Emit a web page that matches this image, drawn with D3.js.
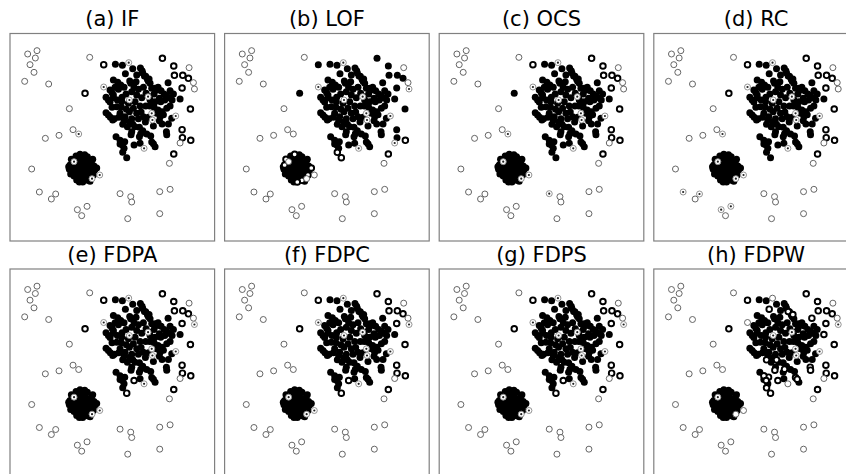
<!DOCTYPE html>
<html><head><meta charset="utf-8">
<script src="https://cdn.jsdelivr.net/npm/d3@7"></script>
<style>body{margin:0;background:#fff}svg{display:block}</style>
</head><body>
<svg id="c" width="846" height="474"></svg>
<script>
// panel titles
const titles = ["(a) IF","(b) LOF","(c) OCS","(d) RC","(e) FDPA","(f) FDPC","(g) FDPS","(h) FDPW"];

// true inliers: large sparse cluster [x, y] (y measured downward)
const bigCluster = [
[311,194],[487,175],[521,198],[523,226],[548,226],[565,235],[546,264],[255,280],[571,327],[546,389],
[547,413],[572,421],[521,462],[368,457],[380,473],[402,435],[540,297],[376,221],[433,228],[447,237],
[368,373],[398,373],[422,401],[393,404],[499,395],[500,404],[374,425],[360,421],[367,435],[455,426],
[460,431],[504,248],[346,193],[367,196],[398,206],[421,204],[426,212],[437,229],[442,238],[353,247],
[345,262],[355,268],[336,278],[362,255],[372,262],[389,243],[408,245],[430,262],[450,250],[465,265],
[474,262],[483,272],[462,282],[492,282],[510,272],[506,293],[494,300],[478,295],[318,292],[325,300],
[340,293],[352,300],[366,292],[378,282],[395,275],[410,285],[425,293],[438,280],[450,300],[465,305],
[318,338],[331,352],[343,356],[356,352],[336,322],[350,320],[364,322],[379,328],[388,335],[400,325],
[410,340],[423,336],[437,318],[449,318],[462,322],[474,330],[486,335],[500,325],[510,318],[480,350],
[478,362],[445,352],[415,356],[395,356],[375,350],[360,340],[382,380],[418,382],[436,366],[460,378],
[486,372],[440,402],[418,410],[348,410],[420,430],[465,440],[395,395],[430,350],[340,240],[385,310],
[405,305],[420,318],[365,305],[455,265],[515,355],[330,270],[505,372],[428,219],[445,244],[358,262],
[340,285],[330,306],[325,345],[338,360],[470,270],[500,288],[516,300],[392,250],[402,262],[415,268],
[448,290],[458,312],[470,340],[490,344],[372,360],[388,366],[405,380],[428,392],[452,408],[360,432],
[372,445],[482,305],[520,282],[410,225]
];

// true inliers: small dense cluster
const smallCluster = [
[246,503],[236,495],[256,495],[240,512],[252,514],[230,505],[262,505],[246,488],[246,520],[228,490],
[264,490],[228,518],[266,520],[238,480],[254,480],[220,500],[272,500],[236,528],[256,530],[218,485],
[274,486],[216,515],[276,514],[246,470],[246,535],[228,468],[262,470],[210,495],[282,498],[230,540],
[262,541],[208,508],[284,510],[222,528],[270,532],[240,463],[254,464],[214,478],[278,478],[248,546],
[238,546],[290,504],[206,500],[270,544],[280,525],[212,522]
];

// true outliers
const outliers = [
[83,162],[111,152],[106,174],[90,194],[102,217],[74,244],[146,252],[269,172],[208,326],[219,389],
[236,402],[136,415],[177,406],[95,507],[118,576],[154,597],[167,582],[232,629],[245,647],[261,619],
[360,581],[392,590],[395,606],[383,656],[479,575],[510,568],[479,641],[508,490],[540,429],[567,203],
[580,248],[583,267],[386,188],[311,261],[388,300],[444,290],[455,340],[527,348],[457,360],[432,445],
[299,525],[276,536],[222,485]
];

// per panel: inliers flagged as outliers (big / small cluster indices)
const fpBig = [
[0,1,2,3,4,5,6,7,8,9,10,11,12],
[11,12,13,14],
[0,1,2,3,4,5,6,8,9,10,11,12],
[0,1,2,3,4,5,6,7,8,9,10,11,12],
[0,1,2,3,4,5,6,7,8,9,10,11,12,14,15],
[0,1,2,3,4,5,6,7,8,9,10,11,12,14,15],
[0,1,2,3,4,5,6,7,8,9,10,11,12,14,15],
[0,1,2,3,4,5,6,7,8,9,10,11,12,13,14,15,16,17,18,19,20,21,22,23,24,25,26,27,28,29,30,31]
];
const fpSmall = [[],[19,37,27,39,30,41,44,35],[],[],[],[],[],[]];
// per panel: outliers missed (predicted inlier)
const fnOut = [
[10,32,33,34,35,36,37,38,39,40,41,42],
[28,31,32,33,34,35,36,37,38,39],
[10,20,32,33,34,35,36,37,38,39,40,41,42],
[10,14,16,17,19,32,33,34,35,36,37,38,39,40,41,42],
[31,32,33,34,35,36,37,38,39,40,41,42],
[31,32,33,34,35,36,37,38,39,40,41,42],
[31,32,33,34,35,36,37,38,39,40,41,42],
[31,34,35,36,37,38,42]
];

const svg = d3.select("#c");
const colX = [10, 224.6, 439.2, 653.8], rowY = [33.5, 269];
const pw = 204.6, ph = 207.5;

titles.forEach((t, i) => {
  const c = i % 4, r = Math.floor(i / 4);
  const g = svg.append("g").attr("transform", `translate(${colX[c]},${rowY[r]})`);
  const x = d3.scaleLinear().domain([30, 643.5]).range([0, pw]);
  const y = d3.scaleLinear().domain([100.5, 723]).range([0, ph]);
  const cid = "clip" + i;
  g.append("clipPath").attr("id", cid).append("rect").attr("width", pw).attr("height", ph);
  const pg = g.append("g").attr("clip-path", `url(#${cid})`);

  const fpB = new Set(fpBig[i]), fpS = new Set(fpSmall[i]), fnO = new Set(fnOut[i]);
  const inl = bigCluster.map((d, k) => ({d, fp: fpB.has(k)}))
    .concat(smallCluster.map((d, k) => ({d, fp: fpS.has(k)})));

  pg.selectAll("circle.tn").data(inl.filter(p => !p.fp)).join("circle")
    .attr("class","tn").attr("cx", p => x(p.d[0])).attr("cy", p => y(p.d[1]))
    .attr("r", 3.5).attr("fill", "#000");
  pg.selectAll("circle.fp").data(inl.filter(p => p.fp)).join("circle")
    .attr("class","fp").attr("cx", p => x(p.d[0])).attr("cy", p => y(p.d[1]))
    .attr("r", 2.8).attr("fill", "#fff").attr("stroke", "#000").attr("stroke-width", 1.9);
  const outs = outliers.map((d, k) => ({d, fn: fnO.has(k)}));
  pg.selectAll("circle.o").data(outs).join("circle")
    .attr("class","o").attr("cx", p => x(p.d[0])).attr("cy", p => y(p.d[1]))
    .attr("r", 3).attr("fill", "#fff").attr("stroke", p => p.fn ? "#888" : "#555").attr("stroke-width", 0.9);
  pg.selectAll("circle.dot").data(outs.filter(p => p.fn)).join("circle")
    .attr("class","dot").attr("cx", p => x(p.d[0])).attr("cy", p => y(p.d[1]))
    .attr("r", 1.1).attr("fill", "#222");

  g.append("rect").attr("width", pw).attr("height", ph)
    .attr("fill", "none").attr("stroke", "#808080").attr("stroke-width", 1.2);
  svg.append("text").attr("x", colX[c] + pw / 2).attr("y", rowY[r] - 7.5)
    .attr("text-anchor", "middle").attr("font-family", "DejaVu Sans")
    .attr("font-size", 21).attr("fill", "#000").text(t);
});
</script>
</body></html>
